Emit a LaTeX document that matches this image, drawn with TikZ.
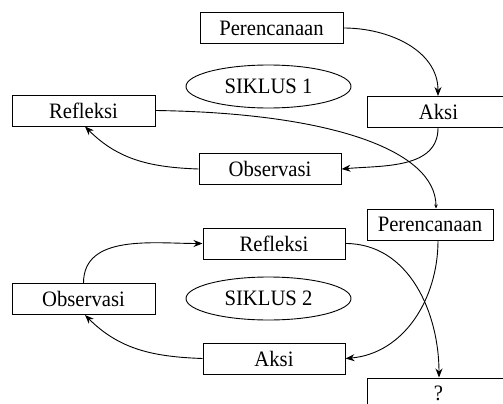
\documentclass[tikz,border=0pt]{standalone}
\usepackage{fontspec}
\setmainfont{Liberation Serif}
\usetikzlibrary{arrows.meta,shapes.geometric}
\newcommand\sqtxt[1]{\scalebox{0.94}[1]{#1}}
\begin{document}
\begin{tikzpicture}[x=1pt,y=-1pt,
  box/.style={draw,line width=1pt,minimum width=143pt,minimum height=31pt,inner sep=0pt,font=\fontsize{22}{22}\selectfont},
  oval/.style={draw,ellipse,line width=0.9pt,minimum width=165pt,minimum height=43pt,inner sep=0pt,font=\fontsize{22}{22}\selectfont},
  arr/.style={line width=0.9pt,-{Stealth[length=9pt,width=7pt]}},
  sarr/.style={line width=0.9pt,-{Stealth[length=4pt,width=3.5pt]}}]
\useasboundingbox (0,0) rectangle (503,404);
\clip (0,0) rectangle (503,404);
% cycle 1
\node[box,minimum width=143pt] (p1) at (271.5,28) {\sqtxt{Perencanaan}};
\node[oval] (s1) at (268.5,86.5) {\sqtxt{SIKLUS 1}};
\node[box] (r1) at (83.5,110.5) {\sqtxt{Refleksi}};
\node[box] (a1) at (438.5,112) {\sqtxt{Aksi}};
\node[box,minimum width=142pt] (o1) at (270,169) {\sqtxt{Observasi}};
% cycle 2
\node[box,minimum width=126pt] (p2) at (430,224.5) {\sqtxt{Perencanaan}};
\node[box,minimum width=142pt] (r2) at (274,243.5) {\sqtxt{Refleksi}};
\node[box] (o2) at (83.5,299) {\sqtxt{Observasi}};
\node[oval] (s2) at (268.5,298.5) {\sqtxt{SIKLUS 2}};
\node[box,minimum width=142pt] (a2) at (274,358.5) {\sqtxt{Aksi}};
\node[box] (q) at (438.5,393.5) {\sqtxt{?}};
% arrows cycle 1
\draw[arr] (p1.east) to[out=0,in=90] (a1.north -| 438,0);
\draw[arr] (a1.south -| 438,0) to[out=-90,in=5] (o1.east);
\draw[arr] (o1.west) to[out=178,in=-45] (r1.south -| 85,0);
\draw[sarr] (r1.east) .. controls (330,113) and (436,150) .. (p2.north -| 436,0);
% arrows cycle 2
\draw[arr] (p2.south -| 438,0) to[out=-90,in=5] (a2.east);
\draw[arr] (a2.west) to[out=178,in=-45] (o2.south -| 85,0);
\draw[arr] (o2.north) to[out=90,in=180] (r2.west);
\draw[arr] (r2.east) to[out=0,in=90] (q.north -| 439,0);
\end{tikzpicture}
\end{document}
